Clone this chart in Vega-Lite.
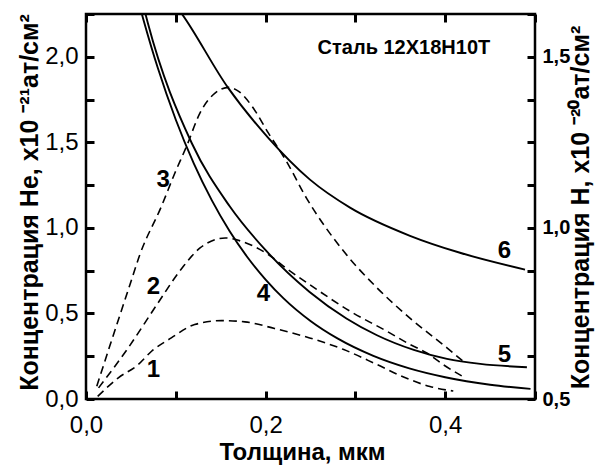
{
  "$schema": "https://vega.github.io/schema/vega-lite/v6.json",
  "width": 449,
  "height": 385,
  "autosize": {"type": "none"},
  "padding": {"left": 86, "top": 14, "right": 60, "bottom": 66},
  "background": "white",
  "config": {
    "font": "Liberation Sans",
    "view": {"stroke": "black", "strokeWidth": 2.5},
    "axis": {
      "grid": false,
      "domain": false,
      "offset": -8,
      "zindex": 1,
      "tickColor": "black",
      "tickWidth": 3,
      "tickSize": 8,
      "labelColor": "black",
      "titleColor": "black",
      "labelFont": "Liberation Sans",
      "titleFont": "Liberation Sans",
      "labelOverlap": false,
      "labelFlush": false
    }
  },
  "datasets": {
    "he": [
      {"curve": "1", "x": 0.013, "c": 0.015},
      {"curve": "1", "x": 0.036, "c": 0.124},
      {"curve": "1", "x": 0.058, "c": 0.2},
      {"curve": "1", "x": 0.073, "c": 0.279},
      {"curve": "1", "x": 0.095, "c": 0.357},
      {"curve": "1", "x": 0.121, "c": 0.435},
      {"curve": "1", "x": 0.151, "c": 0.458},
      {"curve": "1", "x": 0.177, "c": 0.451},
      {"curve": "1", "x": 0.21, "c": 0.412},
      {"curve": "1", "x": 0.249, "c": 0.357},
      {"curve": "1", "x": 0.287, "c": 0.289},
      {"curve": "1", "x": 0.324, "c": 0.2015},
      {"curve": "1", "x": 0.355, "c": 0.1256},
      {"curve": "1", "x": 0.383, "c": 0.073},
      {"curve": "1", "x": 0.409, "c": 0.0467},
      {"curve": "2", "x": 0.014, "c": 0.065},
      {"curve": "2", "x": 0.047, "c": 0.299},
      {"curve": "2", "x": 0.079, "c": 0.552},
      {"curve": "2", "x": 0.107, "c": 0.766},
      {"curve": "2", "x": 0.127, "c": 0.883},
      {"curve": "2", "x": 0.155, "c": 0.941},
      {"curve": "2", "x": 0.173, "c": 0.922},
      {"curve": "2", "x": 0.203, "c": 0.844},
      {"curve": "2", "x": 0.225, "c": 0.756},
      {"curve": "2", "x": 0.249, "c": 0.669},
      {"curve": "2", "x": 0.294, "c": 0.513},
      {"curve": "2", "x": 0.335, "c": 0.396},
      {"curve": "2", "x": 0.361, "c": 0.318},
      {"curve": "2", "x": 0.379, "c": 0.27},
      {"curve": "2", "x": 0.398, "c": 0.2},
      {"curve": "2", "x": 0.42, "c": 0.13},
      {"curve": "3", "x": 0.012, "c": 0.075},
      {"curve": "3", "x": 0.027, "c": 0.318},
      {"curve": "3", "x": 0.049, "c": 0.669},
      {"curve": "3", "x": 0.06, "c": 0.844},
      {"curve": "3", "x": 0.084, "c": 1.126},
      {"curve": "3", "x": 0.099, "c": 1.321},
      {"curve": "3", "x": 0.112, "c": 1.477},
      {"curve": "3", "x": 0.127, "c": 1.672},
      {"curve": "3", "x": 0.144, "c": 1.789},
      {"curve": "3", "x": 0.159, "c": 1.821},
      {"curve": "3", "x": 0.17, "c": 1.798},
      {"curve": "3", "x": 0.185, "c": 1.71},
      {"curve": "3", "x": 0.203, "c": 1.555},
      {"curve": "3", "x": 0.222, "c": 1.4},
      {"curve": "3", "x": 0.246, "c": 1.17},
      {"curve": "3", "x": 0.287, "c": 0.863},
      {"curve": "3", "x": 0.324, "c": 0.65},
      {"curve": "3", "x": 0.362, "c": 0.467},
      {"curve": "3", "x": 0.402, "c": 0.299},
      {"curve": "3", "x": 0.42, "c": 0.22}
    ],
    "h": [
      {"curve": "4", "x": 0.058, "c": 1.665},
      {"curve": "4", "x": 0.0638, "c": 1.61},
      {"curve": "4", "x": 0.08, "c": 1.467},
      {"curve": "4", "x": 0.1, "c": 1.316},
      {"curve": "4", "x": 0.12, "c": 1.1885},
      {"curve": "4", "x": 0.14, "c": 1.081},
      {"curve": "4", "x": 0.16, "c": 0.99},
      {"curve": "4", "x": 0.18, "c": 0.9135},
      {"curve": "4", "x": 0.2, "c": 0.849},
      {"curve": "4", "x": 0.22, "c": 0.794},
      {"curve": "4", "x": 0.25, "c": 0.728},
      {"curve": "4", "x": 0.28, "c": 0.677},
      {"curve": "4", "x": 0.32, "c": 0.626},
      {"curve": "4", "x": 0.36, "c": 0.5895},
      {"curve": "4", "x": 0.4, "c": 0.5637},
      {"curve": "4", "x": 0.45, "c": 0.5416},
      {"curve": "4", "x": 0.495, "c": 0.5295},
      {"curve": "5", "x": 0.063, "c": 1.658},
      {"curve": "5", "x": 0.0687, "c": 1.6},
      {"curve": "5", "x": 0.1177, "c": 1.248},
      {"curve": "5", "x": 0.16, "c": 1.0631},
      {"curve": "5", "x": 0.2, "c": 0.9349},
      {"curve": "5", "x": 0.249, "c": 0.8128},
      {"curve": "5", "x": 0.29, "c": 0.7354},
      {"curve": "5", "x": 0.324, "c": 0.6863},
      {"curve": "5", "x": 0.365, "c": 0.6434},
      {"curve": "5", "x": 0.402, "c": 0.6171},
      {"curve": "5", "x": 0.439, "c": 0.6025},
      {"curve": "5", "x": 0.491, "c": 0.5929},
      {"curve": "6", "x": 0.095, "c": 1.667},
      {"curve": "6", "x": 0.1066, "c": 1.626},
      {"curve": "6", "x": 0.1581, "c": 1.4098},
      {"curve": "6", "x": 0.2027, "c": 1.2637},
      {"curve": "6", "x": 0.2494, "c": 1.141},
      {"curve": "6", "x": 0.294, "c": 1.0593},
      {"curve": "6", "x": 0.3608, "c": 0.977},
      {"curve": "6", "x": 0.4165, "c": 0.9273},
      {"curve": "6", "x": 0.4889, "c": 0.8782}
    ],
    "curveLabels": [
      {"t": "1", "x": 0.075, "c": 0.17},
      {"t": "2", "x": 0.075, "c": 0.653},
      {"t": "3", "x": 0.086, "c": 1.282},
      {"t": "4", "x": 0.1975, "c": 0.614},
      {"t": "5", "x": 0.466, "c": 0.256},
      {"t": "6", "x": 0.466, "c": 0.867}
    ],
    "note": [
      {"t": "Сталь 12Х18Н10Т", "x": 0.354, "c": 2.05}
    ]
  },
  "layer": [
    {
      "data": {"name": "he"},
      "mark": {"type": "line", "color": "black", "strokeWidth": 1.6, "strokeDash": [8, 5], "interpolate": "monotone", "clip": true},
      "encoding": {
        "x": {
          "field": "x", "type": "quantitative",
          "scale": {"domain": [0, 0.5], "nice": false, "zero": false},
          "axis": {
            "orient": "bottom",
            "values": [0, 0.1, 0.2, 0.3, 0.4, 0.5],
            "labelExpr": "round(datum.value * 10) % 2 == 0 && datum.value < 0.45 ? replace(format(datum.value, '.1f'), '.', ',') : ''",
            "labelFontSize": 24,
            "labelPadding": 14,
            "title": "Толщина, мкм",
            "titleFontSize": 24,
            "titleFontWeight": "bold",
            "titleX": 216,
            "titleY": 68,
            "titleAlign": "center",
            "titleBaseline": "alphabetic"
          }
        },
        "y": {
          "field": "c", "type": "quantitative",
          "scale": {"domain": [0, 2.25], "nice": false, "zero": false},
          "axis": {
            "orient": "left",
            "values": [0, 0.25, 0.5, 0.75, 1, 1.25, 1.5, 1.75, 2, 2.25],
            "labelExpr": "round(datum.value * 4) % 2 == 0 ? replace(format(datum.value, '.1f'), '.', ',') : ''",
            "labelFontSize": 24,
            "labelPadding": 8,
            "title": "Концентрация He, x10 ⁻²¹ат/см²",
            "titleFontSize": 25,
            "titleFontWeight": "bold",
            "titleAngle": 270,
            "titleX": -57,
            "titleY": 188,
            "titleAlign": "center",
            "titleBaseline": "alphabetic"
          }
        },
        "detail": {"field": "curve"}
      }
    },
    {
      "data": {"name": "h"},
      "mark": {"type": "line", "color": "black", "strokeWidth": 1.9, "interpolate": "monotone", "clip": true},
      "encoding": {
        "x": {
          "field": "x", "type": "quantitative",
          "scale": {"domain": [0, 0.5], "nice": false, "zero": false},
          "axis": {
            "orient": "top",
            "values": [0, 0.1, 0.2, 0.3, 0.4, 0.5],
            "labels": false,
            "title": null
          }
        },
        "y": {
          "field": "c", "type": "quantitative",
          "scale": {"domain": [0.5, 1.625], "nice": false, "zero": false},
          "axis": {
            "orient": "right",
            "values": [0.5, 0.625, 0.75, 0.875, 1, 1.125, 1.25, 1.375, 1.5, 1.625],
            "labelExpr": "round(datum.value * 8) % 4 == 0 ? replace(format(datum.value, '.1f'), '.', ',') : ''",
            "labelFontSize": 20,
            "labelFontWeight": "bold",
            "labelPadding": 7,
            "title": "Концентрация H, x10 ⁻²⁰ат/см²",
            "titleFontSize": 25,
            "titleFontWeight": "bold",
            "titleAngle": 270,
            "titleX": 61,
            "titleY": 193,
            "titleAlign": "center",
            "titleBaseline": "alphabetic"
          }
        },
        "detail": {"field": "curve"}
      }
    },
    {
      "data": {"name": "curveLabels"},
      "mark": {"type": "text", "color": "black", "font": "Liberation Sans", "fontSize": 24, "fontWeight": "bold", "align": "center", "baseline": "middle"},
      "encoding": {
        "x": {"field": "x", "type": "quantitative", "scale": {"domain": [0, 0.5], "nice": false, "zero": false}, "axis": null},
        "y": {"field": "c", "type": "quantitative", "scale": {"domain": [0, 2.25], "nice": false, "zero": false}, "axis": null},
        "text": {"field": "t"}
      }
    },
    {
      "data": {"name": "note"},
      "mark": {"type": "text", "color": "black", "font": "Liberation Sans", "fontSize": 20, "fontWeight": "bold", "align": "center", "baseline": "middle"},
      "encoding": {
        "x": {"field": "x", "type": "quantitative", "scale": {"domain": [0, 0.5], "nice": false, "zero": false}, "axis": null},
        "y": {"field": "c", "type": "quantitative", "scale": {"domain": [0, 2.25], "nice": false, "zero": false}, "axis": null},
        "text": {"field": "t"}
      }
    }
  ],
  "resolve": {
    "scale": {"y": "independent"},
    "axis": {"x": "independent", "y": "independent"}
  }
}
